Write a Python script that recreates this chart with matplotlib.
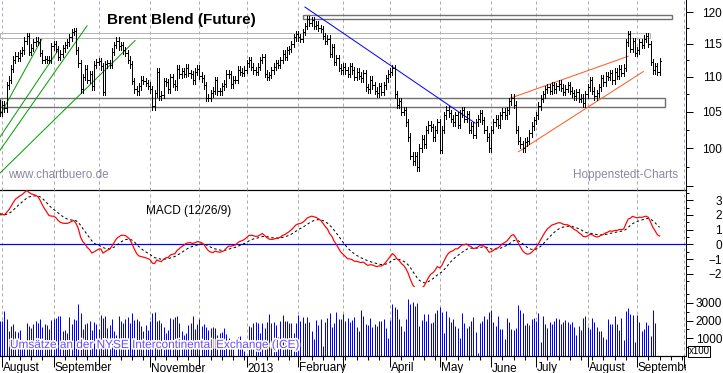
import numpy as np
import pandas as pd
import matplotlib
matplotlib.use("Agg")
import matplotlib.pyplot as plt
from matplotlib.patches import Rectangle
from matplotlib.ticker import FixedLocator, NullFormatter, FuncFormatter
from matplotlib.transforms import Bbox, TransformedBbox, blended_transform_factory
from matplotlib import patheffects

plt.rcParams['font.family'] = ['Liberation Sans', 'DejaVu Sans']

# daily closes, Brent Blend future (USD)
close_2012_07 = [104.9]
close_2012_08 = [106.0, 105.5, 108.8, 109.6, 111.2, 112.6, 113.2, 112.8, 113.6, 114.0, 115.5, 116.2,
                 113.8, 114.4, 115.2, 115.5, 115.3, 113.6, 112.5, 112.7, 112.6, 112.5, 114.6]
close_2012_09 = [115.0, 114.2, 113.0, 113.5, 114.3, 114.8, 115.2, 116.0, 116.8, 117.0, 114.0, 112.0,
                 108.2, 110.0, 111.2, 109.6, 110.4, 108.6, 111.8, 112.2]
close_2012_10 = [112.4, 111.6, 107.8, 111.9, 112.0, 111.8, 113.8, 114.8, 115.5, 114.6, 114.8, 114.0,
                 113.6, 112.6, 111.9, 109.4, 108.2, 107.9, 108.6, 109.6, 109.4, 109.1, 108.7]
close_2012_11 = [108.2, 105.8, 107.6, 110.8, 107.2, 107.4, 109.4, 109.2, 108.2, 110.0, 109.0, 108.6,
                 111.2, 110.4, 110.9, 110.5, 111.4, 110.6, 110.4, 109.5, 110.8, 111.2]
close_2012_12 = [110.2, 109.8, 108.8, 107.0, 107.0, 107.6, 108.0, 109.5, 107.9, 107.9, 108.6, 109.0,
                 110.5, 110.4, 108.9, 109.6, 109.6, 111.1, 110.8, 110.6, 111.1]
close_2013_01 = [112.0, 112.5, 111.5, 111.0, 110.8, 111.5, 112.5, 113.0, 110.5, 110.0, 110.3, 111.0,
                 111.5, 112.0, 111.8, 112.5, 113.5, 113.0, 114.0, 114.2, 115.0, 116.0, 116.5]
close_2013_02 = [116.0, 115.8, 116.8, 117.8, 118.9, 118.3, 118.7, 117.8, 118.0, 117.5, 117.3, 116.2,
                 115.5, 115.8, 113.5, 114.5, 112.2, 112.8, 111.4, 111.0]
close_2013_03 = [111.5, 111.0, 110.5, 111.6, 111.0, 110.0, 110.8, 110.2, 109.8, 110.6, 108.5, 108.2,
                 109.6, 108.8, 108.0, 107.6, 108.6, 107.8, 108.8, 109.8, 110.5]
close_2013_04 = [110.8, 111.3, 107.5, 106.0, 106.5, 105.0, 105.2, 103.5, 101.5, 99.0, 98.3, 99.0,
                 97.5, 100.0, 101.2, 100.5, 102.5, 103.2, 102.8, 101.5, 102.5, 103.5]
close_2013_05 = [99.8, 102.5, 104.5, 105.3, 104.8, 104.0, 103.5, 104.5, 103.2, 104.8, 105.2, 104.0,
                 104.6, 102.5, 103.0, 101.8, 103.5, 104.0, 104.8, 103.8, 102.5, 101.5, 100.0]
close_2013_06 = [102.5, 103.5, 104.0, 103.2, 104.5, 105.0, 104.5, 105.2, 106.5, 107.0, 106.0, 102.5,
                 101.0, 100.5, 100.0, 100.8, 101.0, 102.0, 103.0, 103.8]
close_2013_07 = [104.5, 105.8, 106.8, 107.5, 108.2, 108.5, 108.0, 108.8, 108.2, 108.6, 109.0, 108.4,
                 107.8, 108.3, 108.8, 108.0, 107.6, 107.2, 107.8, 106.8, 107.0, 106.2, 107.5]
close_2013_08 = [108.5, 109.5, 108.0, 107.2, 107.6, 108.5, 109.8, 109.2, 110.2, 110.0, 110.6, 109.5,
                 110.8, 110.2, 111.2, 110.6, 111.4, 115.2, 116.5, 114.2, 115.4, 113.6]
close_2013_09 = [114.0, 115.2, 114.8, 115.8, 116.2, 115.0, 112.2, 111.0, 111.6, 110.8, 112.3]

# closes before the visible window (June/July 2012), only used to seed the MACD
warmup_close = [98.4, 98.9, 99.6, 100.6, 99.9, 99.5, 98.9, 97.1, 97.1, 97.2, 97.6, 95.8, 95.8, 93.9,
                89.2, 91.0, 91.5, 93.5, 93.5, 91.4, 97.8, 97.3, 100.7, 100.7, 100.7, 98.2, 100.3, 98.0,
                100.2, 101.1, 102.4, 103.2, 103.1, 104.0, 107.9, 107.0, 103.3, 103.4, 104.4, 105.3,
                106.5, 106.2]

# volume (x100 contracts)
vol_2012_07 = [2000]
vol_2012_08 = [2000, 2550, 2075, 1430, 1700, 1810, 1430, 1380, 1470, 900, 850, 1890, 1700, 1600, 1790,
               1980, 1890, 2100, 1620, 1810, 1740, 1510, 2040]
vol_2012_09 = [2075, 2130, 2260, 2260, 1420, 1470, 1280, 2230, 1810, 2080, 2040, 2930, 2420, 1510,
               1810, 1890, 1980, 1470, 1940, 1810]
vol_2012_10 = [1510, 2320, 2170, 2260, 1570, 1770, 2080, 1430, 1190, 2260, 1980, 1890, 2080, 2230,
               1850, 2420, 2040, 2080, 1980, 1700, 1430, 1750, 1470]
vol_2012_11 = [1980, 2420, 2510, 1980, 2040, 1850, 1620, 1320, 1470, 2130, 2080, 2230, 2260, 1850,
               1430, 1190, 1280, 1750, 1890, 2260, 1510, 1810]
vol_2012_12 = [2080, 1700, 1790, 1620, 1470, 1600, 1620, 1600, 1190, 1280, 1340, 1570, 1230, 1000,
               900, 700, 0, 1100, 1150, 600, 300]
vol_2013_01 = [0, 1700, 1660, 1850, 1910, 1890, 1320, 1890, 1570, 1910, 2380, 1850, 1940, 1750, 1090,
               1980, 2320, 1980, 2000, 1850, 1890, 1320, 1890]
vol_2013_02 = [2320, 2000, 2230, 1890, 2230, 1940, 1420, 960, 2040, 1750, 2090, 570, 1940, 2130, 2450,
               1660, 1850, 2510, 2080, 2080]
vol_2013_03 = [2380, 1980, 2130, 1910, 2040, 2190, 1620, 1430, 2600, 2260, 1810, 1740, 2130, 1660,
               1810, 1700, 1980, 1980, 2090, 1570, 1040]
vol_2013_04 = [2040, 2940, 2790, 2660, 2080, 1700, 1400, 2080, 3230, 2940, 3040, 2850, 2980, 1700,
               2040, 2380, 1980, 2380, 1890, 1940, 2450, 2600]
vol_2013_05 = [2790, 2510, 1280, 2550, 2230, 1940, 2090, 1700, 1570, 1040, 2450, 1850, 1600, 1720,
               1980, 2230, 1380, 190, 1890, 2000, 2260, 2090, 2510]
vol_2013_06 = [2600, 1910, 1720, 2260, 1530, 1530, 940, 2150, 1940, 1530, 1470, 1600, 2890, 2600,
               2450, 1750, 1890, 1770, 2090, 2170]
vol_2013_07 = [2000, 2420, 810, 2260, 1830, 1600, 1940, 1830, 1980, 2150, 2090, 1830, 1940, 2040,
               1920, 1830, 1920, 1660, 1210, 1700, 1470, 2150, 2260]
vol_2013_08 = [1660, 1530, 2170, 1910, 1660, 1430, 1430, 1090, 940, 2090, 1830, 1830, 2260, 1830,
               1470, 2150, 910, 2550, 2700, 2380, 2340, 810]
vol_2013_09 = [2340, 1940, 1400, 1510, 1940, 1750, 1150, 2600, 1870]

# drawn lines (bar index, price) and zones (bar from, bar to, low, high)
green_lines = [((0.1, 104.5), (18.7, 115.7)), ((0.1, 101.5), (26.0, 114.0)),
               ((0.1, 99.7), (38.9, 117.8)), ((0.1, 96.7), (60.3, 115.5))]
blue_line = ((136.0, 120.8), (211.8, 103.4))
wedge_upper = ((227.4, 106.9), (280.1, 113.1))
wedge_lower = ((231.1, 99.5), (286.8, 110.8))
zones = [(135.1, 299.6, 118.9, 119.5), (0.1, 289.8, 115.9, 116.7), (0.1, 296.5, 105.6, 107.0)]
zone_colors = ['#707070', '#b4b4b4', '#707070']

month_labels = ['August', 'September', '', 'November', '', '2013', 'February', '', 'April', 'May',
                'June', 'July', 'August', 'September']

close = np.array(close_2012_07 + close_2012_08 + close_2012_09 + close_2012_10 + close_2012_11
                 + close_2012_12 + close_2013_01 + close_2013_02 + close_2013_03 + close_2013_04
                 + close_2013_05 + close_2013_06 + close_2013_07 + close_2013_08 + close_2013_09)
vol = np.array(vol_2012_07 + vol_2012_08 + vol_2012_09 + vol_2012_10 + vol_2012_11 + vol_2012_12
               + vol_2013_01 + vol_2013_02 + vol_2013_03 + vol_2013_04 + vol_2013_05 + vol_2013_06
               + vol_2013_07 + vol_2013_08 + vol_2013_09)
n = len(close)
idx = np.arange(n)
days = pd.bdate_range('2012-07-31', '2013-10-04')

# bar = previous close -> close, with a small wick either side
opens = np.r_[warmup_close[-1], close[:-1]]
hi = np.maximum(opens, close) + 0.5
lo = np.minimum(opens, close) - 0.5

full = pd.Series(warmup_close + list(close))
macd = full.ewm(span=12, adjust=False).mean() - full.ewm(span=26, adjust=False).mean()
signal = macd.ewm(span=9, adjust=False).mean()
macd = macd.values[len(warmup_close):]
signal = signal.values[len(warmup_close):]

# figure in pixels
W, H = 723, 373
PX = 72 / 100

def box(x0, y0, x1, y1):
    return [x0 / W, 1 - y1 / H, (x1 - x0) / W, (y1 - y0) / H]

fig = plt.figure(figsize=(W / 100, H / 100), dpi=100)
ax_p = fig.add_axes(box(0, 0, 686, 190))
ax_m = fig.add_axes(box(0, 190, 686, 287), sharex=ax_p)
ax_v = fig.add_axes(box(0, 287, 686, 356), sharex=ax_p)

month_start = [i for i in range(1, len(days)) if days[i].month != days[i - 1].month]
mondays = [i for i in range(len(days)) if days[i].weekday() == 0]

grid_cols = ['#b0a4bc', '#a4b4a4', '#aaaaaa']
for ax, gc in zip((ax_p, ax_m, ax_v), grid_cols):
    for m in month_start:
        ax.axvline(m, color=gc, lw=PX, ls=(0, (3, 3)), zorder=0)
    for s in ('left', 'top'):
        ax.spines[s].set_visible(False)
    ax.spines['right'].set_linewidth(PX)
    ax.patch.set_alpha(0)
    ax.yaxis.tick_right()
    ax.tick_params(axis='y', which='major', direction='out', length=5, width=PX,
                   labelsize=8.5, pad=21)
    ax.tick_params(axis='y', which='minor', direction='out', length=2.5, width=PX)
    ax.tick_params(axis='x', which='both', bottom=False, labelbottom=False)

# price panel
for (x0, x1, y0, y1), ec in zip(zones, zone_colors):
    ax_p.add_patch(Rectangle((x0, y0), x1 - x0, y1 - y0, fill=False, ec=ec,
                             lw=1.4 * PX if ec == '#707070' else PX, zorder=1))
for (xa, ya), (xb, yb) in green_lines:
    ax_p.plot([xa, xb], [ya, yb], color='#00a000', lw=PX, zorder=2)
for (xa, ya), (xb, yb), c in [(blue_line[0], blue_line[1], '#0000ff'),
                              (wedge_upper[0], wedge_upper[1], '#ff5a1e'),
                              (wedge_lower[0], wedge_lower[1], '#ff5a1e')]:
    ax_p.plot([xa, xb], [ya, yb], color=c, lw=PX, zorder=2)

ax_p.vlines(idx, lo, hi, color='k', lw=PX, antialiased=False, zorder=3)
ax_p.hlines(opens, idx - 0.5, idx, color='k', lw=PX, antialiased=False, zorder=3)
ax_p.hlines(close, idx, idx + 0.5, color='k', lw=PX, antialiased=False, zorder=3)

ax_p.set_yscale('log')
ax_p.set_ylim(94.53, 121.95)
ax_p.yaxis.set_major_locator(FixedLocator([95, 100, 105, 110, 115, 120]))
ax_p.yaxis.set_major_formatter(FuncFormatter(lambda v, _: '' if v < 97 else f'{v:.0f}'))
ax_p.yaxis.set_minor_locator(FixedLocator(np.arange(95, 122.6, 2.5)))
ax_p.yaxis.set_minor_formatter(NullFormatter())
ax_p.spines['bottom'].set_linewidth(PX * 1.2)

# MACD panel
ax_m.axhline(0, color='#0000ff', lw=PX * 1.2, zorder=1)
ax_m.plot(idx, signal, color='k', lw=PX, ls=(0, (2.5, 2.5)), zorder=2)
ax_m.plot(idx, macd, color='#ff0000', lw=PX * 1.2, zorder=3)
ax_m.set_ylim(-2.9, 3.69)
ax_m.yaxis.set_major_locator(FixedLocator([-2, -1, 0, 1, 2, 3]))
ax_m.yaxis.set_minor_locator(FixedLocator(np.arange(-2.5, 3.6, 0.5)))
ax_m.yaxis.set_minor_formatter(NullFormatter())
ax_m.spines['bottom'].set_visible(False)

# volume panel
ax_v.vlines(np.arange(len(vol)), 0, vol, color='#0000ff', lw=PX, zorder=2)
ax_v.set_ylim(0, 3905)
ax_v.yaxis.set_major_locator(FixedLocator([1000, 2000, 3000]))
ax_v.yaxis.set_minor_locator(FixedLocator(np.arange(500, 3900, 500)))
ax_v.yaxis.set_minor_formatter(NullFormatter())
ax_v.spines['bottom'].set_linewidth(PX * 1.2)
ax_v.set_xticks(month_start)
ax_v.set_xticks(mondays, minor=True)
ax_v.tick_params(axis='x', which='major', bottom=True, length=8, width=PX, direction='out')
ax_v.tick_params(axis='x', which='minor', bottom=True, length=3, width=PX, direction='out')

ax_p.set_xlim(0.1, 305.8)

for ax in (ax_p, ax_m, ax_v):
    for lab in ax.get_yticklabels():
        lab.set_horizontalalignment('right')

clip = TransformedBbox(Bbox([[0, 0], [686 / W, 1]]), fig.transFigure)
trans = blended_transform_factory(ax_v.transData, ax_v.transAxes)
for m, lab in zip(month_start, month_labels):
    if lab:
        t = ax_v.text(m + 0.4, -6.5 / 69, lab, transform=trans, fontsize=8.5, ha='left', va='top')
        t.set_clip_box(clip)
        t.set_clip_on(True)

# labels
fig.text(107 / W, 1 - 20 / H, 'Brent Blend (Future)', fontsize=11, weight='bold', va='center')
fig.text(8 / W, 1 - 175 / H, 'www.chartbuero.de', color='#8a8aa0', fontsize=8.5, va='center')
fig.text(678 / W, 1 - 175 / H, 'Hoppenstedt-Charts', color='#8a8aa0', fontsize=8.5,
         ha='right', va='center')
fig.text(146 / W, 1 - 211 / H, 'MACD (12/26/9)', fontsize=8.5, va='center')
fig.text(10 / W, 1 - 345 / H, 'Umsätze an der NYSE Intercontinental Exchange (ICE)',
         color='#6a4cff', fontsize=8.5, va='center',
         path_effects=[patheffects.withStroke(linewidth=2.5, foreground='white')])
fig.text(699 / W, 1 - 351.5 / H, 'x100', fontsize=7, ha='center', va='center',
         bbox=dict(boxstyle='square,pad=0.08', fc='white', ec='black', lw=PX))

fig.savefig('out.png', dpi=100)
